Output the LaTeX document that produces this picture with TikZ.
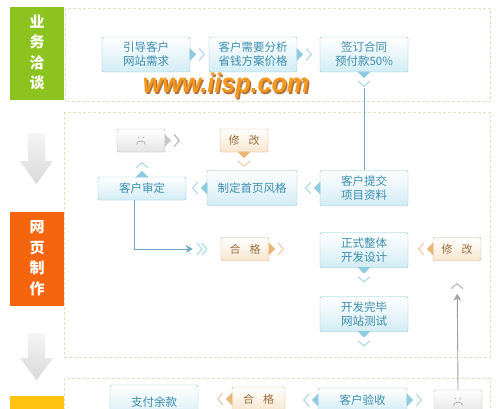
\documentclass[tikz,border=0pt]{standalone}
\usepackage{fontspec}
\newfontfamily\cjk{Noto Sans CJK SC}
\newfontfamily\wm{Liberation Sans}
\usetikzlibrary{arrows.meta}
\definecolor{bxedge}{HTML}{8FC3D6}
\definecolor{bxfill}{HTML}{D2ECF4}
\definecolor{bxtext}{HTML}{3D8DB0}
\definecolor{ptrblue}{HTML}{8CCBE0}
\definecolor{chevblue}{HTML}{B3DAE8}
\definecolor{bgedge}{HTML}{D8B27E}
\definecolor{bgfill}{HTML}{F6E6CE}
\definecolor{bgtext}{HTML}{9A7040}
\definecolor{bgptr}{HTML}{E9B675}
\definecolor{bgchev}{HTML}{E8D2B2}
\definecolor{gyedge}{HTML}{BBBBBB}
\definecolor{gyfill}{HTML}{E4E4E4}
\definecolor{gyptr}{HTML}{C8C8C8}
\definecolor{dashc}{HTML}{E6E0BE}
\definecolor{lgreen}{HTML}{8CC31E}
\definecolor{lorange}{HTML}{F5650E}
\definecolor{lyellow}{HTML}{FFC20E}
\definecolor{lineblue}{HTML}{6EA8C8}
\definecolor{wmorange}{HTML}{F39A1E}
\definecolor{wmshadow}{HTML}{B8733A}
\tikzset{
  box/.style={draw=bxedge, top color=white, bottom color=bxfill, rounded corners=1.5pt,
    minimum width=88pt, minimum height=35pt, inner sep=0pt, align=center, text=bxtext,
    font=\cjk\fontsize{11.5}{14}\selectfont},
  tbox/.style={draw=bgedge, top color=white, bottom color=bgfill, rounded corners=1.5pt,
    minimum width=48pt, minimum height=23pt, inner sep=0pt, align=center, text=bgtext,
    font=\cjk\fontsize{11}{14}\selectfont},
  gbox/.style={draw=gyedge, top color=white, bottom color=gyfill, rounded corners=1.5pt,
    minimum width=48pt, minimum height=23pt, inner sep=0pt},
  sect/.style={draw=dashc, line width=0.9pt, dash pattern=on 3pt off 2pt},
  lab/.style={text=white, align=center, font=\cjk\bfseries\fontsize{15}{20.5}\selectfont},
  conn/.style={draw=lineblue, line width=0.9pt},
  gconn/.style={draw=gray!75, line width=0.9pt},
  blockarrow/.style={top color=gray!8, bottom color=gray!30, draw=none}
}
\newcommand\ptr[4]{%
  \begin{scope}[shift={(#1)}, rotate=#2]
    \fill[#3] (-0.6pt,6.5pt) -- (6pt,0pt) -- (-0.6pt,-6.5pt) -- cycle;
    \draw[#4, line width=1.2pt, line join=miter] (9pt,6pt) -- (14pt,0pt) -- (9pt,-6pt);
  \end{scope}}
\newcommand\chev[3]{%
  \begin{scope}[shift={(#1)}, rotate=#2]
    \draw[#3, line width=1.2pt, line join=miter] (0pt,6pt) -- (5pt,0pt) -- (0pt,-6pt);
  \end{scope}}
\newcommand\sadface[1]{%
  \fill[gray!70] ([xshift=-2.5pt,yshift=3pt]#1.center) circle (0.6pt);
  \fill[gray!70] ([xshift=2.5pt,yshift=3pt]#1.center) circle (0.6pt);
  \draw[gray!70, line width=0.7pt] ([xshift=-4.5pt,yshift=-4pt]#1.center) arc (180:0:4.5pt and 3.5pt);}
\begin{document}
\begin{tikzpicture}[x=1pt,y=-1pt]
\useasboundingbox (0,0) rectangle (500,409);
\clip (0,0) rectangle (500,409);
\fill[white] (0,0) rectangle (500,409);
% sections
\draw[sect] (65,8) rectangle (490,101);
\draw[sect] (64,112) rectangle (490,357);
\draw[sect] (64,378) rectangle (490,430);
% labels
\fill[lgreen] (10,7) rectangle (64,100);
\node[lab] (labA) at (37,52.5) {业\\务\\洽\\谈};
\fill[lorange] (10,212) rectangle (64,306);
\node[lab] (labB) at (37,258) {网\\页\\制\\作};
\fill[lyellow] (10,396) rectangle (64,440);
% block arrows
\shade[blockarrow] (28,133) -- (45,133) -- (45,161) -- (53,161) -- (36.5,184) -- (20,161) -- (28,161) -- cycle;
\shade[blockarrow] (28,333) -- (45,333) -- (45,358) -- (53,358) -- (36.5,380) -- (20,358) -- (28,358) -- cycle;
% watermark
\node[text=wmshadow, font=\wm\bfseries\itshape\fontsize{27}{27}\selectfont, xscale=0.93] at (227.5,87.5) {www.iisp.com};
\node[text=wmorange, font=\wm\bfseries\itshape\fontsize{27}{27}\selectfont, xscale=0.93] (wmk) at (226,86) {www.iisp.com};
% nodes
\node[box] (n1) at (146,54.5) {引导客户\\网站需求};
\node[box] (n2) at (253,54.5) {客户需要分析\\省钱方案价格};
\node[box] (n3) at (364,54.5) {签订合同\\预付款50\%};
\node[gbox] (sad1) at (141,140.5) {};
\node[tbox] (fix1) at (244,140.5) {修\hspace{9pt}改};
\node[box, minimum height=23pt] (audit) at (142,188.5) {客户审定};
\node[box, minimum width=90pt] (style) at (252,188) {制定首页风格};
\node[box] (submit) at (364,188) {客户提交\\项目资料};
\node[tbox] (ok1) at (245,249) {合\hspace{9pt}格};
\node[box] (dev) at (364,250) {正式整体\\开发设计};
\node[tbox] (fix2) at (457,249) {修\hspace{9pt}改};
\node[box] (test) at (364,314) {开发完毕\\网站测试};
\node[box] (pay) at (154,402.5) {支付余款};
\node[tbox, minimum width=53pt, minimum height=24pt] (ok2) at (258.5,399) {合\hspace{9pt}格};
\node[box, minimum width=89pt, minimum height=24pt] (acc) at (362.5,400) {客户验收};
\node[gbox] (sad2) at (458,401.5) {};
\sadface{sad1}
\sadface{sad2}
% pointers
\ptr{n1.east}{0}{ptrblue}{chevblue}
\ptr{n2.east}{0}{ptrblue}{chevblue}
\ptr{n3.south}{-90}{ptrblue}{chevblue}
\ptr{sad1.east}{0}{gyptr}{gyedge}
\ptr{fix1.south}{-90}{bgptr}{bgchev}
\ptr{audit.north}{90}{ptrblue}{chevblue}
\ptr{style.west}{180}{ptrblue}{chevblue}
\ptr{submit.west}{180}{ptrblue}{chevblue}
\ptr{ok1.east}{0}{bgptr}{bgchev}
\ptr{dev.south}{-90}{ptrblue}{chevblue}
\ptr{fix2.west}{180}{bgptr}{bgchev}
\ptr{test.south}{-90}{ptrblue}{chevblue}
\ptr{ok2.west}{180}{bgptr}{bgchev}
\ptr{acc.west}{180}{ptrblue}{chevblue}
\ptr{acc.east}{0}{ptrblue}{chevblue}
% connectors
\draw[conn, shorten <=16pt] (n3.south) -- (submit.north);
\coordinate (aud) at ([xshift=-8pt]audit.south);
\draw[conn, -{Stealth[length=7pt,width=8pt]}, shorten >=28pt] (aud) |- (ok1.west);
\chev{[xshift=-24pt]ok1.west}{0}{chevblue}
\chev{[xshift=-19pt]ok1.west}{0}{chevblue}
\draw[gconn, -{Stealth[length=7pt,width=8pt]}, shorten >=33pt] (sad2.north) -- (fix2.south);
\chev{[yshift=-28pt]fix2.south}{90}{gyedge}
\end{tikzpicture}
\end{document}
